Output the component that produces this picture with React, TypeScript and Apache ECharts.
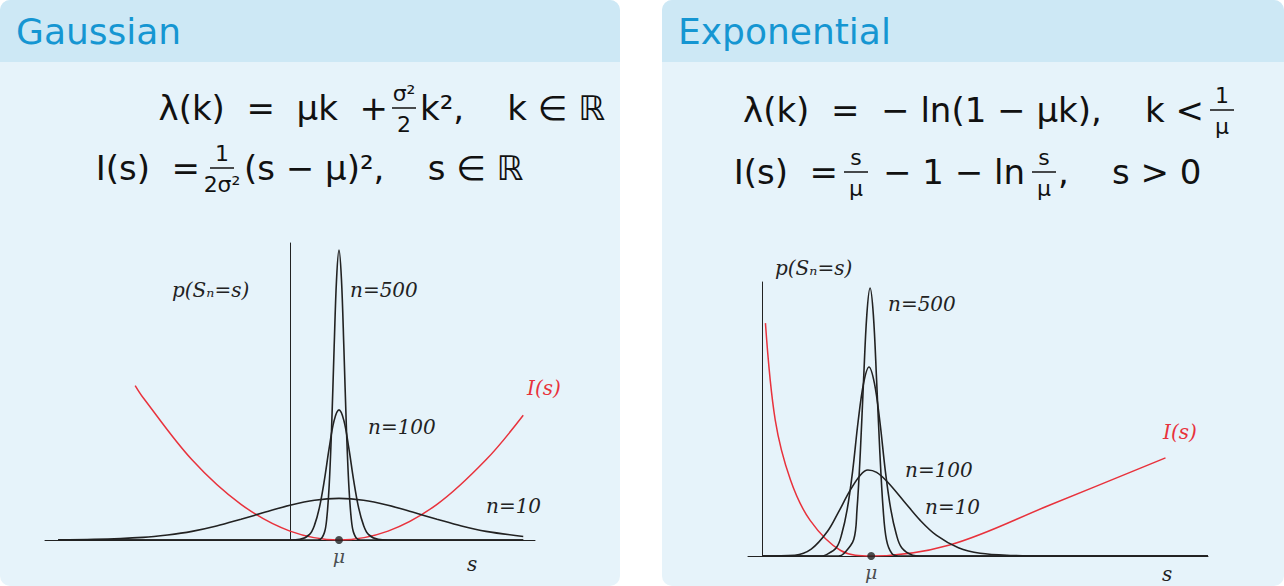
import { useEffect, useRef } from 'react';
import * as echarts from 'echarts';

// left panel (Gaussian), s shifted so vertical axis is at 0 and mu = 1
const gaussN500 = [[-4.73, 0], [0.5, 0], [0.6, 0.1], [0.7, 2.4], [0.75, 7.2], [0.8, 18.5], [0.85, 38.2], [0.9, 64.5], [0.95, 87.8], [1, 97.6], [1.05, 87.8], [1.1, 64.5], [1.15, 38.2], [1.2, 18.5], [1.25, 7.2], [1.3, 2.4], [1.4, 0.1], [1.5, 0], [4.76, 0]];
const gaussN100 = [[-4.73, 0], [0, 0], [0.2, 0.2], [0.4, 1.9], [0.5, 5], [0.6, 10.9], [0.7, 20], [0.8, 31], [0.9, 40.2], [1, 43.8], [1.1, 40.2], [1.2, 31], [1.3, 20], [1.4, 10.9], [1.5, 5], [1.6, 1.9], [1.8, 0.2], [2, 0], [4.76, 0]];
const gaussN10 = [[-4.73, 0.05], [-4, 0.2], [-3, 0.9], [-2.5, 1.7], [-2, 2.9], [-1.5, 4.7], [-1, 7], [-0.5, 9.4], [0, 11.7], [0.5, 13.4], [1, 14], [1.5, 13.4], [2, 11.7], [2.5, 9.4], [3, 7], [3.5, 4.7], [4, 2.9], [4.76, 1.2]];
const gaussRate = [[-3.16, 52], [-3, 48], [-2, 27], [-1, 12], [0, 3], [1, 0], [2, 3], [3, 12], [4, 27], [4.76, 42]];

// right panel (Exponential), mu = 1
const expN500 = [[0, 0], [0.7, 0], [0.75, 0.9], [0.84, 6], [0.87, 17], [0.9, 37.5], [0.93, 64], [0.96, 88], [0.99, 97.8], [1.02, 88], [1.05, 64], [1.08, 37.5], [1.11, 17], [1.14, 6], [1.19, 0.9], [1.25, 0], [4.09, 0]];
const expN100 = [[0, 0], [0.55, 0], [0.58, 0.3], [0.68, 3], [0.73, 8], [0.78, 17], [0.83, 31], [0.88, 49], [0.93, 63], [0.98, 69], [1.03, 63], [1.08, 49], [1.13, 31], [1.18, 17], [1.23, 8], [1.28, 3], [1.38, 0.3], [1.45, 0], [4.09, 0]];
const expN10 = [[0, 0], [0.3, 0.3], [0.45, 2.5], [0.6, 9], [0.7, 16], [0.8, 23.5], [0.9, 29.5], [0.97, 31.4], [1.05, 30.5], [1.15, 27], [1.3, 20], [1.45, 13], [1.6, 7.5], [1.8, 3], [2, 1], [2.3, 0.2], [2.6, 0], [4.09, 0]];
const expRate = [[0.03, 85], [0.12, 49.6], [0.26, 27.7], [0.44, 13], [0.72, 2], [1, 0], [1.72, 4], [2.64, 18.6], [3.7, 35.8]];

const muPoint = [[1, 0]];

const SANS = 'DejaVu Sans';
const SERIF = 'DejaVu Serif';

const line = (data: number[][], idx: number, color = '#222', width = 1.6) => ({
  type: 'line', xAxisIndex: idx, yAxisIndex: idx, data, smooth: 0.35, showSymbol: false,
  lineStyle: { color, width }, silent: true,
});

const txt = (x: number, y: number, text: string, size: number, extra: any = {}) => ({
  type: 'text', x, y,
  style: { text, fontSize: size, fontFamily: SANS, fill: '#111', textVerticalAlign: 'middle', ...extra },
});

const frac = (x: number, y: number, num: string, den: string, size = 22) => ({
  type: 'group', x, y,
  children: [
    txt(0, -15, num, size, { textAlign: 'center' }),
    { type: 'line', shape: { x1: -12, y1: 0, x2: 12, y2: 0 }, style: { stroke: '#111', lineWidth: 1.5 } },
    txt(0, 16, den, size, { textAlign: 'center' }),
  ],
});

const serifLabel = (x: number, y: number, text: string, fill = '#222') =>
  txt(x, y, text, 20, { fontFamily: SERIF, fontStyle: 'italic', fill });

export default function App() {
  const chartRef = useRef<HTMLDivElement>(null);

  useEffect(() => {
    document.body.style.margin = '0';
    if (!chartRef.current) return;
    const myChart = echarts.init(chartRef.current, null, { renderer: 'svg' });

    const axisCommon = {
      type: 'value', axisTick: { show: false }, axisLabel: { show: false }, splitLine: { show: false },
    };

    const option = {
      animation: false,
      grid: [
        { left: 45, top: 243, width: 490, height: 297 },
        { left: 748, top: 282, width: 460, height: 274 },
      ],
      xAxis: [
        { ...axisCommon, gridIndex: 0, min: -5, max: 5, axisLine: { lineStyle: { color: '#222', width: 1 } } },
        { ...axisCommon, gridIndex: 1, min: -0.13, max: 4.09, axisLine: { lineStyle: { color: '#222', width: 1 } } },
      ],
      yAxis: [
        { ...axisCommon, gridIndex: 0, min: 0, max: 100, axisLine: { show: true, onZero: true, lineStyle: { color: '#222', width: 1 } } },
        { ...axisCommon, gridIndex: 1, min: 0, max: 100, axisLine: { show: true, onZero: true, lineStyle: { color: '#222', width: 1 } } },
      ],
      series: [
        line(gaussRate, 0, '#e8323c', 1.5),
        line(gaussN10, 0),
        line(gaussN100, 0),
        line(gaussN500, 0),
        line(expRate, 1, '#e8323c', 1.5),
        line(expN10, 1),
        line(expN100, 1),
        line(expN500, 1),
        ...[0, 1].map((i) => ({
          type: 'scatter', xAxisIndex: i, yAxisIndex: i, data: muPoint, symbolSize: 8, z: 5,
          itemStyle: { color: '#222' },
          label: { show: true, position: 'bottom', distance: 2, formatter: 'μ', fontFamily: SERIF, fontStyle: 'italic', fontSize: 19, color: '#222' },
        })),
      ],
      graphic: [
        { type: 'rect', z: -10, shape: { x: 0, y: 0, width: 620, height: 586, r: 10 }, style: { fill: '#e6f3fa' } },
        { type: 'rect', z: -9, shape: { x: 0, y: 0, width: 620, height: 62, r: [10, 10, 0, 0] }, style: { fill: '#cde8f5' } },
        { type: 'rect', z: -10, shape: { x: 662, y: 0, width: 622, height: 586, r: 10 }, style: { fill: '#e6f3fa' } },
        { type: 'rect', z: -9, shape: { x: 662, y: 0, width: 622, height: 62, r: [10, 10, 0, 0] }, style: { fill: '#cde8f5' } },
        txt(16, 31, 'Gaussian', 36, { fill: '#1596d2' }),
        txt(678, 31, 'Exponential', 36, { fill: '#1596d2' }),

        txt(388, 108, 'λ(k)  =  μk  +', 34, { textAlign: 'right' }),
        frac(404, 108, 'σ²', '2'),
        txt(420, 108, 'k²,    k ∈ ℝ', 34),
        txt(200, 168, 'I(s)  =', 34, { textAlign: 'right' }),
        frac(222, 168, '1', '2σ²'),
        txt(244, 168, '(s − μ)²,    s ∈ ℝ', 34),

        txt(1204, 110, 'λ(k)  =  − ln(1 − μk),    k <', 34, { textAlign: 'right' }),
        frac(1222, 110, '1', 'μ'),
        txt(838, 172, 'I(s)  =', 34, { textAlign: 'right' }),
        frac(856, 172, 's', 'μ'),
        txt(1025, 172, '− 1 − ln', 34, { textAlign: 'right' }),
        frac(1044, 172, 's', 'μ'),
        txt(1058, 172, ',    s > 0', 34),

        serifLabel(172, 290, 'p(Sₙ=s)'),
        serifLabel(350, 290, 'n=500'),
        serifLabel(368, 427, 'n=100'),
        serifLabel(486, 506, 'n=10'),
        serifLabel(527, 388, 'I(s)', '#e8323c'),
        serifLabel(467, 564, 's'),

        serifLabel(775, 268, 'p(Sₙ=s)'),
        serifLabel(888, 304, 'n=500'),
        serifLabel(905, 470, 'n=100'),
        serifLabel(925, 507, 'n=10'),
        serifLabel(1163, 432, 'I(s)', '#e8323c'),
        serifLabel(1162, 574, 's'),
      ],
    };

    myChart.setOption(option as any);
    return () => myChart.dispose();
  }, []);

  return <div ref={chartRef} style={{ width: 1284, height: 586 }} />;
}
